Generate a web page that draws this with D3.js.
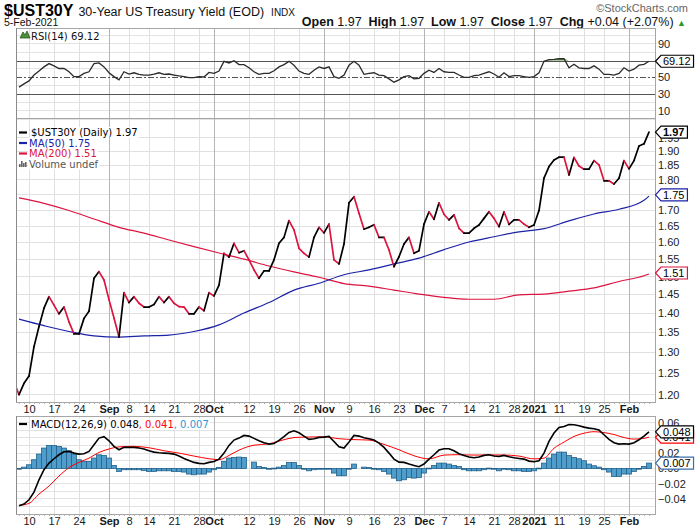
<!DOCTYPE html>
<html><head><meta charset="utf-8">
<script src="https://cdn.jsdelivr.net/npm/d3@7"></script>
<style>
body{margin:0;background:#fff;}
svg text{font-family:"Liberation Sans",Arial,sans-serif;}
.leg{font-family:"DejaVu Sans",Verdana,sans-serif;font-size:10px;}
.nar{font-family:"Liberation Sans Narrow","Arial Narrow","Liberation Sans",Arial,sans-serif;}
</style></head><body>
<svg id="c" width="700" height="530"></svg>
<script>
// ---------------- DATA ----------------
const firstDay = "2020-08-05", lastDay = "2021-02-05";
const holidays = ["2020-09-07","2020-11-26","2020-12-25","2021-01-01","2021-01-18"];
// daily close (first value = Aug 5, clipped at left edge)
const price = [1.23,
 1.20,1.226,1.243,1.314,1.365,1.413,1.444,1.421,1.398,1.416,
 1.377,1.346,1.346,1.386,1.405,1.495,1.514,1.490,1.436,1.387,
 1.338,1.455,1.428,1.444,1.426,1.416,1.416,1.423,1.444,1.428,
 1.444,1.426,1.417,1.416,1.398,1.398,1.416,1.406,1.455,1.446,
 1.476,1.567,1.556,1.597,1.569,1.575,1.548,1.519,1.495,1.516,
 1.516,1.548,1.597,1.615,1.667,1.638,1.582,1.567,1.556,1.615,
 1.646,1.629,1.656,1.548,1.536,1.595,1.724,1.744,1.690,1.640,
 1.646,1.654,1.615,1.615,1.577,1.528,1.557,1.595,1.615,1.567,
 1.575,1.656,1.695,1.671,1.724,1.687,1.669,1.685,1.643,1.628,
 1.628,1.643,1.653,1.674,1.695,1.674,1.648,1.695,1.655,1.669,
 1.669,1.656,1.646,1.653,1.699,1.806,1.846,1.869,1.879,1.879,
 1.817,1.878,1.848,1.837,1.837,1.867,1.852,1.797,1.797,1.786,
 1.806,1.867,1.838,1.867,1.919,1.927,1.97];
// moving averages, read at sampled trading days (index into the date list)
const maAt = [1,6,11,16,21,26,31,36,41,46,51,56,61,66,71,76,81,86,91,96,101,106,111,116,121,126,127];
const ma50 = [1.384,1.367,1.352,1.341,1.338,1.341,1.343,1.352,1.369,1.400,1.428,1.462,1.481,1.505,1.519,1.536,1.553,1.578,1.601,1.617,1.632,1.642,1.666,1.688,1.703,1.732,1.746];
const ma200 = [1.740,1.722,1.699,1.672,1.646,1.628,1.607,1.587,1.568,1.550,1.530,1.513,1.498,1.480,1.473,1.462,1.451,1.442,1.437,1.437,1.449,1.451,1.459,1.468,1.486,1.502,1.507];
const rsi = [null,
 38.3,42.2,45.7,52.7,57.4,62.4,66.3,63.6,60.5,60.5,
 56.6,50.8,50.8,54.7,56.6,66.3,67.1,62.4,55.4,50.8,
 46.9,56.6,53.9,55.4,53.5,52.7,52.7,53.9,55.4,53.5,
 53.9,52.7,51.6,50.8,49.6,49.6,50.8,50.4,55.8,54.7,
 57.4,69.0,67.1,69.8,65.1,65.1,61.3,56.6,53.5,54.7,
 54.7,57.8,62.4,65.1,69.0,64.4,57.4,54.7,53.5,58.5,
 62.4,60.5,62.4,50.8,48.8,52.7,64.4,69.0,64.4,53.5,
 54.7,55.4,52.7,51.9,48.1,44.2,46.9,50.8,51.9,48.1,
 48.8,54.7,58.5,55.8,60.5,56.6,55.8,55.8,52.7,50.0,
 50.0,51.9,52.7,54.7,56.6,53.9,50.0,55.4,50.8,51.9,
 51.9,50.8,50.0,50.8,55.4,69.0,71.0,71.4,72.1,72.1,
 61.3,65.5,61.3,60.5,60.5,63.6,59.7,53.5,53.5,52.7,
 54.7,61.3,57.4,59.7,64.4,65.5,69.12];
const macd = [null,
 -0.049,-0.0468,-0.0411,-0.0311,-0.0149,-0.0017,0.007,0.0127,0.0179,0.0219,
 0.0223,0.0201,0.0188,0.0192,0.0223,0.0311,0.0398,0.0416,0.0363,0.0289,
 0.0245,0.0276,0.0276,0.0276,0.0267,0.0254,0.0232,0.0214,0.0206,0.0201,
 0.0197,0.0188,0.0162,0.0131,0.0105,0.0079,0.0066,0.0061,0.0079,0.0092,
 0.0122,0.0201,0.0302,0.0372,0.0398,0.0433,0.0424,0.0394,0.0363,0.0337,
 0.0319,0.0328,0.0367,0.0416,0.0472,0.0494,0.0468,0.0424,0.0381,0.0389,
 0.0407,0.0411,0.042,0.0354,0.0284,0.0267,0.0346,0.0433,0.0424,0.0402,
 0.0389,0.0372,0.0332,0.0276,0.0201,0.0122,0.0083,0.0079,0.0057,0.0039,
 0.0022,0.0057,0.0122,0.0179,0.0241,0.0258,0.0258,0.0232,0.0192,0.0171,
 0.0149,0.014,0.0149,0.0171,0.0179,0.0162,0.0157,0.0171,0.0153,0.014,
 0.0131,0.0122,0.0096,0.0087,0.0101,0.0201,0.0354,0.0464,0.0538,0.0551,
 0.0577,0.0573,0.056,0.0542,0.0529,0.0521,0.0503,0.0442,0.0381,0.0337,
 0.0319,0.0324,0.0319,0.0337,0.0376,0.0424,0.048];
const hist = [null,
 -0.0004,0.0017,0.0048,0.0114,0.0188,0.0267,0.0302,0.0302,0.0289,0.0267,
 0.0232,0.0188,0.0114,0.0092,0.0092,0.0136,0.0179,0.0171,0.0136,0.0039,
 -0.0039,-0.0017,-0.0017,-0.0017,-0.0017,-0.0026,-0.0039,-0.0039,-0.0031,-0.0031,
 -0.0031,-0.0039,-0.0039,-0.0048,-0.0074,-0.0083,-0.0074,-0.0074,-0.0048,-0.0017,
 0.0013,0.0092,0.0136,0.0144,0.0149,0.0144,null,0.0083,0.0026,0.0013,
 -0.0004,0.0004,0.0017,0.0039,0.0079,0.0079,0.0039,-0.0004,-0.0031,-0.0017,
 -0.0009,-0.0009,-0.0004,-0.0061,-0.0096,-0.0096,-0.0004,0.0057,null,0.0017,
 0.0013,-0.0004,-0.0017,-0.0039,-0.0074,-0.0127,-0.0162,-0.0149,-0.0118,-0.0127,
 -0.0118,-0.0061,0.0004,0.0039,0.007,0.007,0.0057,0.0039,0.0026,-0.0017,
 -0.0031,-0.0031,-0.0031,-0.0017,0.0004,-0.0004,-0.0031,-0.0009,-0.0017,-0.0031,
 -0.0031,-0.0039,-0.0039,-0.0031,0.0004,0.007,0.0136,0.0188,0.0214,0.0214,
 0.0171,0.0144,0.0127,0.0101,0.0057,0.0035,0.0017,-0.0017,-0.0048,-0.0105,
 -0.0105,-0.0074,-0.0074,-0.0039,-0.0004,0.0026,0.007];
const sigAt = [1,3,5,7,9,11,13,15,17,19,21,24,27,30,33,36,39,41,43,45,48,51,54,56,59,62,65,68,71,74,77,80,83,86,89,92,95,98,101,104,106,108,110,112,114,116,118,120,122,124,126,127];
const signal = [-0.0486,-0.0459,-0.0337,-0.0232,-0.010,0.001,0.008,0.0135,0.021,0.0255,0.0283,0.0290,0.0271,0.0232,0.0201,0.0162,0.0127,0.0115,0.017,0.024,0.0305,0.0323,0.0377,0.0405,0.0412,0.0415,0.039,0.0378,0.0372,0.0315,0.0245,0.0166,0.0125,0.0175,0.018,0.0175,0.0177,0.0176,0.0162,0.0125,0.0135,0.0265,0.0345,0.042,0.0462,0.0482,0.047,0.0445,0.0405,0.0385,0.0395,0.041];
const tickDates = ["2020-08-10","2020-08-17","2020-08-24","2020-09-01","2020-09-08","2020-09-14","2020-09-21","2020-09-28","2020-10-01","2020-10-12","2020-10-19","2020-10-26","2020-11-02","2020-11-09","2020-11-16","2020-11-23","2020-12-01","2020-12-07","2020-12-14","2020-12-21","2020-12-28","2021-01-04","2021-01-11","2021-01-19","2021-01-25","2021-02-01"];
const tickLabels = ["10","17","24","Sep","8","14","21","28","Oct","12","19","26","Nov","9","16","23","Dec","7","14","21","28","2021","11","19","25","Feb"];
const mainTicks = [1.20,1.25,1.30,1.35,1.40,1.45,1.50,1.55,1.60,1.65,1.70,1.75,1.80,1.85,1.90,1.95];
const rsiTicks = [90,70,50,30,10];
const macdTicks = [0.06,0.04,0.02,0.00,-0.02,-0.04];
const mainLast = [1.97,1.75,1.51];      // price, MA50, MA200 tags
const rsiLast = [69.12];
const macdLast = [0.048,0.041,0.007];   // MACD, signal, histogram tags

// ---------------- SETUP ----------------
const fmt = d3.timeFormat("%Y-%m-%d"), parse = d3.timeParse("%Y-%m-%d");
const hol = new Set(holidays);
const dates = d3.timeDay.range(parse(firstDay), d3.timeDay.offset(parse(lastDay),1))
  .filter(d => d.getDay()%6 !== 0 && !hol.has(fmt(d))).map(fmt);
const N = dates.length;
const RED = "#dc1440", NAVY = "#1c22a6";
const X0 = 16, X1 = 655;
const P = {rsi:[28,118], main:[118,402], macd:[416,514]};
const svg = d3.select("#c");
svg.append("rect").attr("width",700).attr("height",530).attr("fill","#fff");

const x = d3.scalePoint().domain(d3.range(N)).range([14,649]);
const yM = d3.scaleLog().domain([1.20,1.90]).range([394.7,151.3]);
const yR = d3.scaleLinear().domain([0,100]).range([119.3,35.3]);
const yD = d3.scaleLinear().domain([-0.04,0.06]).range([498.9,422.7]);
const tickIdx = tickDates.map(t => dates.indexOf(t));
const isMonth = l => isNaN(+l) || l === "2021";

const defs = svg.append("defs");
Object.entries(P).forEach(([k,[t,b]]) => {
  defs.append("clipPath").attr("id","clip-"+k).append("rect")
    .attr("x",X0).attr("y",t).attr("width",X1-X0).attr("height",b-t);
});

function panel(key, yScale, hVals, hColor){
  const [t,b] = P[key];
  const g = svg.append("g");
  g.selectAll("line.h").data(hVals).join("line")
    .attr("x1",X0).attr("x2",X1).attr("y1",d=>yScale(d)).attr("y2",d=>yScale(d))
    .attr("stroke",hColor).attr("stroke-width",1).attr("shape-rendering","crispEdges");
  g.selectAll("line.v").data(tickIdx).join("line")
    .attr("x1",d=>Math.round(x(d))+0.5).attr("x2",d=>Math.round(x(d))+0.5).attr("y1",t).attr("y2",b)
    .attr("stroke",(d,i)=>isMonth(tickLabels[i])?"#b5b5b5":"#e0e0e0").attr("stroke-width",1);
  return g;
}
function border(key){
  const [t,b] = P[key];
  svg.append("rect").attr("x",X0+0.5).attr("y",t+0.5).attr("width",X1-X0).attr("height",b-t)
    .attr("fill","none").attr("stroke","#a6a6a6");
  svg.append("line").attr("x1",X0+0.5).attr("x2",X0+0.5).attr("y1",t).attr("y2",b).attr("stroke","#8a8a8a");
}
function dayTicks(yb){
  svg.append("g").selectAll("line").data(d3.range(1,N)).join("line")
    .attr("x1",d=>Math.round(x(d))+0.5).attr("x2",d=>Math.round(x(d))+0.5)
    .attr("y1",yb).attr("y2",yb+2).attr("stroke","#b0b0b0");
}
// right-hand value labels; a label sitting right under a last-value tag is not shown (as in the reference)
function yAxis(yScale, vals, f, tags){
  const shown = vals.filter(v => tags.every(t => Math.abs(yScale(v)-yScale(t)) > 3));
  const ax = d3.axisRight(yScale).tickValues(shown).tickFormat(f).tickSize(0).tickPadding(3);
  const g = svg.append("g").attr("transform",`translate(${X1},0)`).call(ax);
  g.select(".domain").remove();
  g.selectAll("text").attr("font-size",11).attr("fill","#222").attr("font-family","Liberation Sans, Arial, sans-serif");
}
function xAxis(yPos){
  const ax = d3.axisBottom(x).tickValues(tickIdx).tickFormat((d,i)=>tickLabels[i]).tickSize(0).tickPadding(2);
  const g = svg.append("g").attr("transform",`translate(0,${yPos})`).call(ax);
  g.select(".domain").remove();
  g.selectAll("text").attr("font-size",11).attr("fill","#1a1a1a").attr("class","nar")
    .attr("font-weight",(d,i)=>isMonth(tickLabels[i])?"bold":"normal");
}
function box(yv, label, color, bold){
  const g = svg.append("g");
  const tx = g.append("text").attr("x",X1+8).attr("y",yv).attr("dy","0.36em")
    .attr("font-size",11).attr("font-weight",bold?"bold":"normal").attr("fill","#000").text(label);
  const w = tx.node().getComputedTextLength();
  const h = 6;
  g.insert("path","text").attr("d",`M${X1+0.5},${yv} L${X1+6},${yv-h} H${X1+11+w} V${yv+h} H${X1+6} Z`)
    .attr("fill","#fff").attr("stroke",color).attr("stroke-width",1.2);
}
function legendBg(g){
  g.selectAll("text").each(function(){
    const bb = this.getBBox();
    g.insert("rect",":first-child").attr("x",bb.x-1).attr("y",bb.y).attr("width",bb.width+2).attr("height",bb.height)
      .attr("fill","#fff");
  });
}

// ---------------- HEADER ----------------
const t1 = svg.append("text").attr("x",4).attr("y",16).attr("font-size",16).attr("font-weight","bold").attr("class","nar").text("$UST30Y");
const t1w = t1.node().getComputedTextLength();
const t2 = svg.append("text").attr("x",4+t1w+5).attr("y",16).attr("font-size",12.5).attr("class","nar").attr("fill","#111").text("30-Year US Treasury Yield (EOD)");
const t2w = t2.node().getComputedTextLength();
svg.append("text").attr("x",4+t1w+5+t2w+7).attr("y",16).attr("font-size",10).attr("fill","#111").text("INDX");
svg.append("text").attr("x",4).attr("y",26).attr("font-size",10.5).attr("class","nar").attr("fill","#111").text("5-Feb-2021");
svg.append("text").attr("x",688).attr("y",12).attr("text-anchor","end").attr("font-size",11).attr("class","nar").attr("fill","#666").text("\u00A9StockCharts.com");
const ohlc = svg.append("text").attr("x",686).attr("y",25.5).attr("text-anchor","end").attr("font-size",12.5).attr("class","nar").style("white-space","pre").attr("fill","#111");
[["Open",1],[" 1.97  ",0],["High",1],[" 1.97  ",0],["Low",1],[" 1.97  ",0],["Close",1],[" 1.97  ",0],["Chg",1],[" +0.04 (+2.07%) ",0]]
  .forEach(([s,b]) => ohlc.append("tspan").attr("font-weight",b?"bold":"normal").text(s));
ohlc.append("tspan").attr("fill","#2a9a2a").attr("font-size",9).text("\u25B2");

// ---------------- RSI PANEL ----------------
panel("rsi", yR, [100,90,80,60,40,20,10,0], "#e3e3e3");
const gR = svg.append("g").attr("clip-path","url(#clip-rsi)");
[70,30].forEach(v => gR.append("line").attr("x1",X0).attr("x2",X1).attr("y1",Math.round(yR(v))+0.5).attr("y2",Math.round(yR(v))+0.5).attr("stroke","#555"));
gR.append("line").attr("x1",X0).attr("x2",X1).attr("y1",Math.round(yR(50))+0.5).attr("y2",Math.round(yR(50))+0.5)
  .attr("stroke","#555").attr("stroke-dasharray","6,2,2,2");
gR.append("path").datum(rsi)
  .attr("d", d3.area().defined(d=>d!=null).x((d,i)=>x(i)).y0(yR(70)).y1(d=>yR(Math.max(d,70))))
  .attr("fill","#5f9e45");
gR.append("path").datum(rsi)
  .attr("d", d3.line().defined(d=>d!=null).x((d,i)=>x(i)).y(d=>yR(d)))
  .attr("fill","none").attr("stroke","#2b2b2b").attr("stroke-width",1.3);
const lgR = svg.append("g");
lgR.append("text").attr("class","leg").attr("x",31).attr("y",39.5).attr("fill","#111").text("RSI(14) 69.12");
legendBg(lgR);
lgR.append("path").attr("d","M20,38 L23,32 L25,35 L27,31 L30,38 Z").attr("fill","#4f8f3a").attr("stroke","#2c5a20").attr("stroke-width",0.8);
border("rsi");
yAxis(yR, rsiTicks, d3.format("d"), rsiLast);
box(yR(rsiLast[0]), "69.12", "#000", false);

// ---------------- MAIN PANEL ----------------
panel("main", yM, mainTicks, "#e0e0e0");
const gM = svg.append("g").attr("clip-path","url(#clip-main)");
const maLine = d3.line().curve(d3.curveMonotoneX).x(d=>x(d[0])).y(d=>yM(d[1]));
gM.append("path").attr("d", maLine(d3.zip(maAt, ma200))).attr("fill","none").attr("stroke",RED).attr("stroke-width",1.2);
gM.append("path").attr("d", maLine(d3.zip(maAt, ma50))).attr("fill","none").attr("stroke",NAVY).attr("stroke-width",1.2);
gM.selectAll("line.seg").data(d3.pairs(d3.range(N))).join("line")
  .attr("x1",d=>x(d[0])).attr("y1",d=>yM(price[d[0]]))
  .attr("x2",d=>x(d[1])).attr("y2",d=>yM(price[d[1]]))
  .attr("stroke",d=>price[d[1]]<price[d[0]]?RED:"#000")
  .attr("stroke-width",1.7).attr("stroke-linecap","round");
const lgM = svg.append("g");
lgM.append("text").attr("class","leg").attr("x",31).attr("y",136).attr("fill","#000").text("$UST30Y (Daily) 1.97");
lgM.append("text").attr("class","leg").attr("x",29).attr("y",146.5).attr("fill",NAVY).text("MA(50) 1.75");
lgM.append("text").attr("class","leg").attr("x",29).attr("y",157).attr("fill",RED).text("MA(200) 1.51");
lgM.append("text").attr("class","leg").attr("x",29).attr("y",167.5).attr("fill","#555").text("Volume undef");
legendBg(lgM);
lgM.append("line").attr("x1",19).attr("x2",27).attr("y1",132.5).attr("y2",132.5).attr("stroke","#000").attr("stroke-width",2.2);
lgM.append("line").attr("x1",19).attr("x2",27).attr("y1",143).attr("y2",143).attr("stroke",NAVY).attr("stroke-width",2.2);
lgM.append("line").attr("x1",19).attr("x2",27).attr("y1",153.5).attr("y2",153.5).attr("stroke",RED).attr("stroke-width",2.2);
[[19,3],[21,6],[23,4],[25,5]].forEach(([bx,bh]) => lgM.append("rect").attr("x",bx).attr("y",167-bh).attr("width",1.6).attr("height",bh).attr("fill","#666"));
border("main");
dayTicks(P.main[1]);
yAxis(yM, mainTicks, d3.format(".2f"), mainLast);
box(yM(mainLast[2]), "1.51", RED, false);
box(yM(mainLast[1]), "1.75", NAVY, false);
box(yM(mainLast[0]), "1.97", "#000", true);
xAxis(P.main[1]+1);

// ---------------- MACD PANEL ----------------
panel("macd", yD, d3.range(-0.05,0.065,0.01), "#e3e3e3");
const gD = svg.append("g").attr("clip-path","url(#clip-macd)");
const bw = x.step();
gD.selectAll("rect.h").data(hist.map((v,i)=>[i,v]).filter(d=>d[1]!=null)).join("rect")
  .attr("x",d=>x(d[0])-bw/2).attr("width",bw)
  .attr("y",d=>yD(Math.max(0,d[1]))).attr("height",d=>Math.max(0.8,Math.abs(yD(d[1])-yD(0))))
  .attr("fill","#4f9dcb").attr("stroke","#23618c").attr("stroke-width",0.8);
gD.append("path").attr("d", d3.line().curve(d3.curveMonotoneX).x(d=>x(d[0])).y(d=>yD(d[1]))(d3.zip(sigAt, signal)))
  .attr("fill","none").attr("stroke","#f00").attr("stroke-width",1);
gD.append("path").datum(macd)
  .attr("d", d3.line().defined(d=>d!=null).x((d,i)=>x(i)).y(d=>yD(d)))
  .attr("fill","none").attr("stroke","#000").attr("stroke-width",1.6);
const lgD = svg.append("g");
const mt = lgD.append("text").attr("class","leg").attr("x",31).attr("y",427.5).style("white-space","pre");
mt.append("tspan").attr("fill","#000").text("MACD(12,26,9) 0.048");
mt.append("tspan").attr("fill","#f00").text(", 0.041");
mt.append("tspan").attr("fill","#2f95d6").text(", 0.007");
legendBg(lgD);
lgD.append("line").attr("x1",19).attr("x2",27).attr("y1",424).attr("y2",424).attr("stroke","#000").attr("stroke-width",2.2);
border("macd");
dayTicks(P.macd[1]);
yAxis(yD, macdTicks, d3.format(".2f"), macdLast);
box(yD(macdLast[2]), "0.007", "#3b6ea8", false);
box(yD(macdLast[1]), "0.041", "#f00", false);
box(yD(macdLast[0]), "0.048", "#000", false);
xAxis(P.macd[1]+1);
</script>
</body></html>
